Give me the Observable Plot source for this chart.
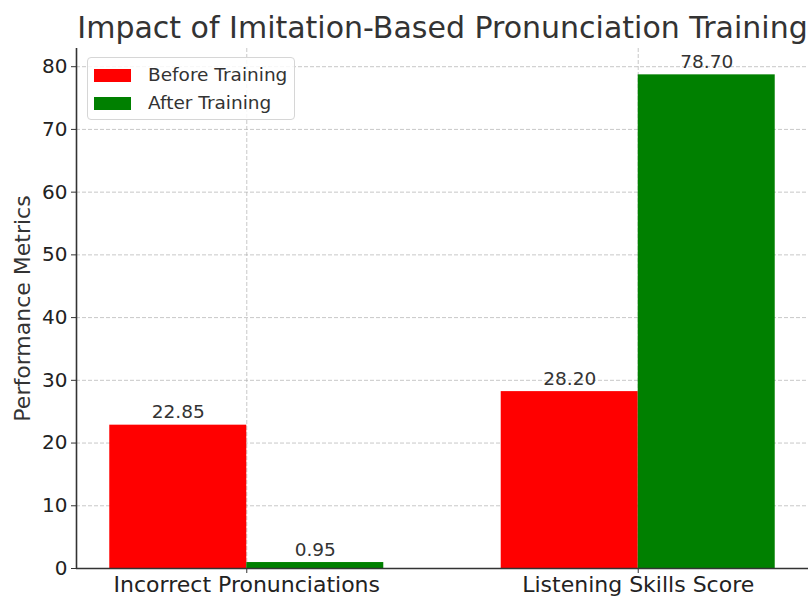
<!DOCTYPE html>
<html>
<head>
<meta charset="utf-8">
<script src="https://cdn.jsdelivr.net/npm/d3@7"></script>
<script src="https://cdn.jsdelivr.net/npm/@observablehq/plot@0.6"></script>
<style>
  html, body { margin: 0; padding: 0; background: #fff; }
  #wrap { position: relative; width: 809px; height: 596px; overflow: hidden; font-family: "DejaVu Sans", sans-serif; }
  #legend { position: absolute; left: 87px; top: 57px; width: 208px; height: 63px; border: 1px solid #d6d6d6; border-radius: 4px; background: rgba(255,255,255,0.85); box-sizing: border-box; }
  .item { position: absolute; left: 6px; display: flex; align-items: center; font-size: 18.5px; color: #333; line-height: 22px; }
  .sw { width: 37px; height: 13px; margin-right: 17px; }
</style>
</head>
<body>
<div id="wrap"></div>
<script>
const categories = ["Incorrect Pronunciations", "Listening Skills Score"];
const seriesNames = ["Before Training", "After Training"];
const beforeValues = [22.85, 28.20];
const afterValues = [0.95, 78.70];
const seriesColors = ["#ff0000", "#008000"];
const yTicks = [0, 10, 20, 30, 40, 50, 60, 70, 80];
const barWidth = 0.35;

const rows = [];
categories.forEach((c, i) => {
  rows.push({i, series: seriesNames[0], value: beforeValues[i], x1: i - barWidth, x2: i});
  rows.push({i, series: seriesNames[1], value: afterValues[i], x1: i, x2: i + barWidth});
});

const chart = Plot.plot({
  width: 809,
  height: 596,
  marginLeft: 76,
  marginRight: 1,
  marginTop: 48,
  marginBottom: 28,
  style: {fontFamily: "DejaVu Sans, sans-serif", color: "#333", background: "transparent"},
  x: {domain: [-0.435, 1.435], label: null},
  y: {domain: [0, 82.9], label: null},
  color: {domain: seriesNames, range: seriesColors},
  marks: [
    Plot.gridY(yTicks, {stroke: "#b0b0b0", strokeOpacity: 0.7, strokeDasharray: "4,2", strokeWidth: 1}),
    Plot.gridX([0, 1], {stroke: "#b0b0b0", strokeOpacity: 0.7, strokeDasharray: "4,2", strokeWidth: 1}),
    Plot.rectY(rows, {x1: "x1", x2: "x2", y: "value", fill: "series", insetLeft: 0, insetRight: 0}),
    Plot.text(rows, {x: d => (d.x1 + d.x2) / 2, y: "value", text: d => d.value.toFixed(2), lineAnchor: "bottom", dy: -7, fontSize: 18.5, fill: "#333"}),
    Plot.ruleX([-0.435], {stroke: "#333", strokeWidth: 1.6}),
    Plot.ruleY([0], {stroke: "#333", strokeWidth: 1.6}),
    Plot.axisY(yTicks, {tickSize: 5, tickPadding: 4, fontSize: 20, stroke: "#333", fill: "#222", label: null}),
    Plot.axisX([0, 1], {tickSize: 5, tickPadding: 3, fontSize: 22, stroke: "#333", fill: "#222", tickFormat: i => categories[i], label: null}),
    Plot.text(["Performance Metrics"], {frameAnchor: "left", textAnchor: "middle", dx: -54, rotate: -90, fontSize: 22, fill: "#333"}),
    Plot.text(["Impact of Imitation-Based Pronunciation Training"], {frameAnchor: "top", dy: -11, lineAnchor: "bottom", fontSize: 30, fill: "#333"})
  ]
});
const wrap = document.getElementById("wrap");
wrap.appendChild(chart);

const legend = document.createElement("div");
legend.id = "legend";
seriesNames.forEach((name, k) => {
  const item = document.createElement("div");
  item.className = "item";
  item.style.top = (k === 0 ? 6 : 34) + "px";
  const sw = document.createElement("div");
  sw.className = "sw";
  sw.style.background = seriesColors[k];
  const t = document.createElement("span");
  t.textContent = name;
  item.appendChild(sw);
  item.appendChild(t);
  legend.appendChild(item);
});
wrap.appendChild(legend);
</script>
</body>
</html>
